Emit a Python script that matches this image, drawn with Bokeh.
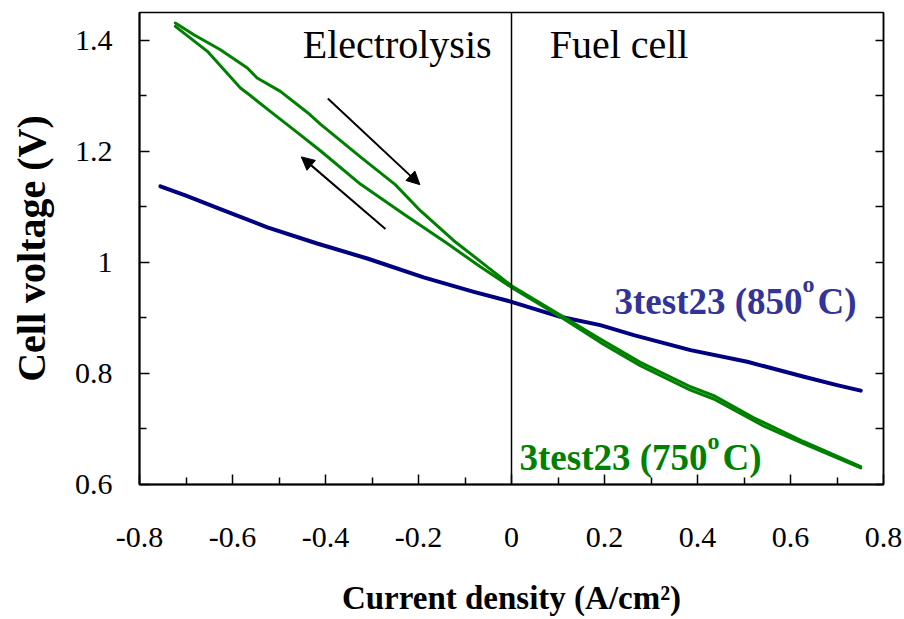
from bokeh.plotting import figure
from bokeh.models import LinearAxis, FixedTicker, Span, Arrow, NormalHead, Range1d, Label
from bokeh.embed import file_html
from bokeh.resources import INLINE

# --- Data: cell voltage vs current density ---------------------------------
# 850 °C sweep
j_850 = [-0.755, -0.700, -0.626, -0.525, -0.418, -0.310, -0.189, -0.081, 0.000,
         0.105, 0.191, 0.263, 0.385, 0.507, 0.629, 0.700, 0.751]
v_850 = [1.137, 1.120, 1.096, 1.063, 1.034, 1.007, 0.973, 0.947, 0.929,
         0.902, 0.887, 0.869, 0.842, 0.821, 0.794, 0.779, 0.769]

# 750 °C sweep: forward scan (electrolysis -> fuel cell), then return scan
j_750_fwd = [-0.723, -0.683, -0.626, -0.568, -0.547, -0.497, -0.439, -0.411, -0.325,
             -0.250, -0.196, -0.124, -0.052, 0.000, 0.105, 0.191, 0.277, 0.385,
             0.435, 0.521, 0.629, 0.751]
v_750_fwd = [1.431, 1.410, 1.383, 1.350, 1.332, 1.308, 1.270, 1.249, 1.190,
             1.140, 1.093, 1.039, 0.992, 0.958, 0.905, 0.862, 0.820, 0.776,
             0.760, 0.720, 0.677, 0.632]
j_750_rev = [0.751, 0.629, 0.543, 0.435, 0.385, 0.277, 0.191, 0.105, 0.000, -0.067,
             -0.138, -0.232, -0.325, -0.411, -0.461, -0.525, -0.561, -0.583, -0.654,
             -0.723]
v_750_rev = [0.630, 0.673, 0.705, 0.754, 0.770, 0.814, 0.856, 0.902, 0.955, 0.992,
             1.034, 1.087, 1.141, 1.201, 1.234, 1.276, 1.300, 1.314, 1.380,
             1.425]

# --- Axis ticks -------------------------------------------------------------
x_ticks = [-0.8, -0.6, -0.4, -0.2, 0.0, 0.2, 0.4, 0.6, 0.8]
x_tick_labels = ["-0.8", "-0.6", "-0.4", "-0.2", "0", "0.2", "0.4", "0.6", "0.8"]
x_minor = [-0.7, -0.5, -0.3, -0.1, 0.1, 0.3, 0.5, 0.7]
y_ticks = [0.6, 0.8, 1.0, 1.2, 1.4]
y_tick_labels = ["0.6", "0.8", "1", "1.2", "1.4"]
y_minor = [0.7, 0.9, 1.1, 1.3]
y_right_ticks = [0.6, 0.7, 0.8, 0.9, 1.0, 1.1, 1.2, 1.3, 1.4]

# --- Scan direction arrows: (x_start, y_start, x_end, y_end) -----------------
arrow_fwd = (-0.395, 1.295, -0.197, 1.140)
arrow_rev = (-0.271, 1.060, -0.452, 1.190)

SERIF = "Liberation Serif"
BLUE_LINE = "#000080"
BLUE_TEXT = "#333399"
GREEN = "#008000"

p = figure(width=904, height=619, x_range=Range1d(-0.8, 0.8), y_range=Range1d(0.6, 1.45),
           output_backend="svg", toolbar_location=None,
           min_border_left=139, min_border_right=21, min_border_top=12, min_border_bottom=135)
p.grid.visible = False
p.background_fill_color = "white"
p.border_fill_color = "white"
p.outline_line_color = "black"
p.outline_line_width = 1.5

# bottom axis
xax = p.xaxis[0]
xax.ticker = FixedTicker(ticks=x_ticks, minor_ticks=x_minor)
xax.major_label_overrides = dict(zip(x_ticks, x_tick_labels))
xax.major_tick_in, xax.major_tick_out = 10, 0
xax.minor_tick_in, xax.minor_tick_out = 7, 0
xax.axis_line_width = 2
xax.major_tick_line_width = 1.5
xax.minor_tick_line_width = 1.5
xax.major_label_text_font = SERIF
xax.major_label_text_font_size = "30px"
xax.major_label_text_color = "black"
xax.major_label_standoff = 43
xax.axis_label = "Current density (A/cm\u00b2)"
xax.axis_label_text_font = SERIF
xax.axis_label_text_font_style = "bold"
xax.axis_label_text_font_size = "33px"
xax.axis_label_text_color = "black"
xax.axis_label_standoff = 30

# left axis
yax = p.yaxis[0]
yax.ticker = FixedTicker(ticks=y_ticks, minor_ticks=y_minor)
yax.major_label_overrides = dict(zip(y_ticks, y_tick_labels))
yax.major_tick_in, yax.major_tick_out = 10, 0
yax.minor_tick_in, yax.minor_tick_out = 7, 0
yax.axis_line_width = 2
yax.major_tick_line_width = 1.5
yax.minor_tick_line_width = 1.5
yax.major_label_text_font = SERIF
yax.major_label_text_font_size = "30px"
yax.major_label_text_color = "black"
yax.major_label_standoff = 27
yax.axis_label = "Cell voltage (V)"
yax.axis_label_text_font = SERIF
yax.axis_label_text_font_style = "bold"
yax.axis_label_text_font_size = "40px"
yax.axis_label_text_color = "black"
yax.axis_label_standoff = 18

# right axis: inward tick marks only (drawn as unlabeled minor ticks)
rax = LinearAxis(ticker=FixedTicker(ticks=[], minor_ticks=y_right_ticks),
                 major_tick_in=0, major_tick_out=0, minor_tick_in=8, minor_tick_out=0,
                 major_label_standoff=0, axis_line_width=1.5, minor_tick_line_width=1.5)
p.add_layout(rax, "right")

# divider between electrolysis and fuel-cell modes
p.add_layout(Span(location=0, dimension="height", line_color="black", line_width=1.5))

# curves
p.line(j_850, v_850, line_color=BLUE_LINE, line_width=4, line_join="round", line_cap="round")
p.line(j_750_fwd, v_750_fwd, line_color=GREEN, line_width=3, line_join="round", line_cap="round")
p.line(j_750_rev, v_750_rev, line_color=GREEN, line_width=3, line_join="round", line_cap="round")

# scan direction arrows
for xs, ys, xe, ye in (arrow_fwd, arrow_rev):
    p.add_layout(Arrow(end=NormalHead(size=13, fill_color="black", line_color="black"),
                       x_start=xs, y_start=ys, x_end=xe, y_end=ye,
                       line_color="black", line_width=2))

# region captions
p.add_layout(Label(x=-0.449, y=1.3925, text="Electrolysis", text_font=SERIF,
                   text_font_size="40px", text_color="black", text_baseline="alphabetic"))
p.add_layout(Label(x=0.082, y=1.3925, text="Fuel cell", text_font=SERIF,
                   text_font_size="40px", text_color="black", text_baseline="alphabetic"))


def series_label(x, y, temp, color):
    """Bold caption '3test23 (T oC)' with a raised 'o' for degrees."""
    common = dict(text_font=SERIF, text_font_style="bold", text_color=color,
                  text_baseline="alphabetic")
    p.add_layout(Label(x=x, y=y, text="3test23 (" + temp, text_font_size="37px", **common))
    p.add_layout(Label(x=x, y=y, x_offset=188, y_offset=17, text="o",
                       text_font_size="24px", **common))
    p.add_layout(Label(x=x, y=y, x_offset=203, text="C)", text_font_size="37px", **common))


series_label(0.2215, 0.930, "850", BLUE_TEXT)
series_label(0.0172, 0.6485, "750", GREEN)

open("out.html", "w").write(file_html(p, INLINE))
